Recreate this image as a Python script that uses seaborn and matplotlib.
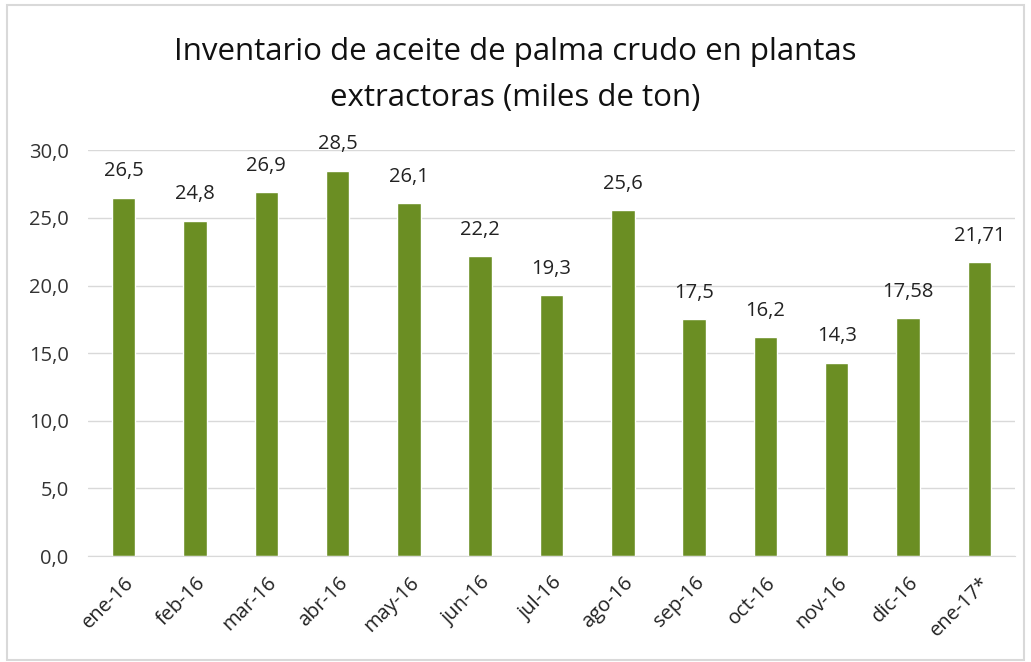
import matplotlib
matplotlib.use('Agg')
import matplotlib.pyplot as plt
import seaborn as sns
import numpy as np
from matplotlib.patches import Rectangle

months = ['ene-16', 'feb-16', 'mar-16', 'abr-16', 'may-16', 'jun-16', 'jul-16',
          'ago-16', 'sep-16', 'oct-16', 'nov-16', 'dic-16', 'ene-17*']
values = [26.5, 24.8, 26.9, 28.5, 26.1, 22.2, 19.3, 25.6, 17.5, 16.2, 14.3, 17.58, 21.71]
value_labels = ['26,5', '24,8', '26,9', '28,5', '26,1', '22,2', '19,3', '25,6',
                '17,5', '16,2', '14,3', '17,58', '21,71']
yticks = [0, 5, 10, 15, 20, 25, 30]

sns.set_style('white')
plt.rcParams['font.family'] = ['Open Sans', 'DejaVu Sans']

fig = plt.figure(figsize=(10.31, 6.62), dpi=100)
ax = fig.add_axes([0.0854, 0.160, 0.899, 0.613])

sns.barplot(x=months, y=values, color='#6B8E23', width=0.33, saturation=1, ax=ax)

for i, lab in enumerate(value_labels):
    ax.text(i, values[i] + 1.2, lab, ha='center', va='bottom', fontsize=14.5, color='#222222')

ax.set_ylim(0, 30)
ax.set_xlim(-0.5, len(months) - 0.5)
ax.set_yticks(yticks)
ax.set_yticklabels([f'{v:.1f}'.replace('.', ',') for v in yticks], fontsize=14.5, color='#333333')
ax.yaxis.grid(True, color='#d9d9d9', linewidth=1)
ax.set_axisbelow(True)
ax.tick_params(axis='y', length=0, pad=14)

ax.set_xticks(range(len(months)))
ax.set_xticklabels(months, rotation=45, ha='right', rotation_mode='anchor', fontsize=14.5, color='#222222')
ax.tick_params(axis='x', which='major', length=0, pad=12)
ax.set_xticks(np.arange(-0.5, len(months)), minor=True)
ax.tick_params(axis='x', which='minor', length=7, color='#d9d9d9', width=1)

for s in ['top', 'right', 'left']:
    ax.spines[s].set_visible(False)
ax.spines['bottom'].set_color('#d9d9d9')

fig.text(0.5, 0.922, 'Inventario de aceite de palma crudo en plantas', ha='center', va='center',
         fontsize=22.5, color='#111111')
fig.text(0.5, 0.852, 'extractoras (miles de ton)', ha='center', va='center',
         fontsize=22.5, color='#111111')

fig.patches.append(Rectangle((0.007, 0.003), 0.986, 0.99, transform=fig.transFigure,
                             fill=False, edgecolor='#d9d9d9', linewidth=1.5))

plt.savefig('out.png', dpi=100)
plt.close()
